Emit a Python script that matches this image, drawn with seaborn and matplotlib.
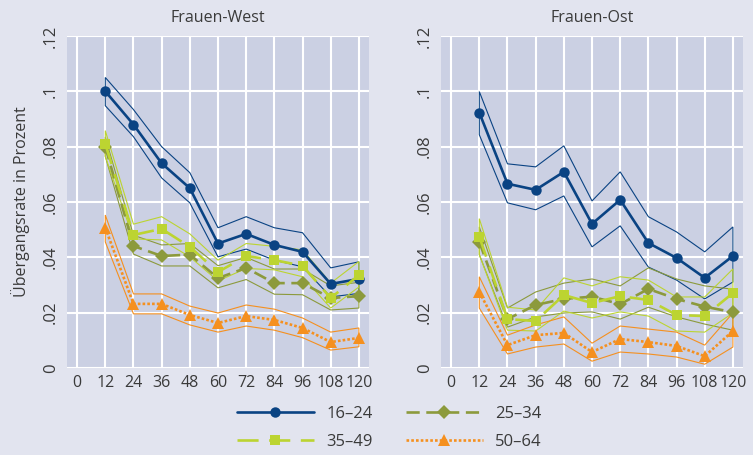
import numpy as np
import pandas as pd
import seaborn as sns
import matplotlib.pyplot as plt

# Data ----------------------------------------------------------------------------------------------
months = [12, 24, 36, 48, 60, 72, 84, 96, 108, 120]
groups = ['16–24', '25–34', '35–49', '50–64']

# Frauen-West: estimate, upper bound, lower bound
west_16_24 = [.100, .088, .074, .065, .045, .0485, .0445, .042, .0304, .0322]
west_16_24_hi = [.105, .0934, .080, .0706, .0507, .0547, .0507, .0489, .0362, .0384]
west_16_24_lo = [.0948, .0836, .0687, .0597, .0402, .043, .039, .0366, .0257, .027]

west_25_34 = [.080, .0441, .0405, .041, .0325, .0362, .0307, .0307, .0253, .026]
west_25_34_hi = [.0835, .048, .0445, .045, .037, .040, .0358, .0358, .0297, .031]
west_25_34_lo = [.0765, .0412, .0369, .0369, .029, .032, .0267, .0265, .021, .0217]

west_35_49 = [.081, .0481, .0503, .0438, .0347, .0405, .039, .037, .0253, .0336]
west_35_49_hi = [.0858, .052, .0547, .0485, .039, .045, .044, .0427, .0307, .0385]
west_35_49_lo = [.0765, .0467, .0463, .0402, .0315, .036, .0355, .033, .0217, .0293]

west_50_64 = [.0507, .0232, .0232, .0192, .0163, .0188, .0174, .0145, .0094, .0109]
west_50_64_hi = [.0553, .0268, .0268, .0224, .0199, .0228, .0213, .0181, .013, .0145]
west_50_64_lo = [.0456, .0196, .0196, .0156, .013, .0152, .0137, .011, .0065, .0077]

# Frauen-Ost
ost_16_24 = [.0923, .0666, .0644, .0709, .0521, .0608, .0452, .0398, .0326, .0405]
ost_16_24_hi = [.0999, .0738, .0727, .0803, .0604, .0709, .0547, .0492, .042, .051]
ost_16_24_lo = [.0843, .0597, .0572, .0622, .0438, .0514, .0365, .0318, .025, .0311]

ost_25_34 = [.0456, .0177, .0228, .025, .0258, .0231, .0286, .025, .0222, .0202]
ost_25_34_hi = [.051, .0217, .0275, .0307, .0322, .0297, .0362, .0322, .0297, .0285]
ost_25_34_lo = [.041, .0148, .0185, .0199, .0203, .0177, .022, .0185, .0159, .0137]

ost_35_49 = [.0475, .0177, .017, .0264, .0235, .026, .0246, .0192, .0188, .0271]
ost_35_49_hi = [.054, .022, .021, .0326, .0297, .033, .0318, .0257, .0257, .0358]
ost_35_49_lo = [.041, .0137, .0134, .0206, .0181, .0203, .0188, .0134, .013, .0199]

ost_50_64 = [.0275, .0083, .0119, .0127, .0058, .0105, .0094, .008, .0043, .0134]
ost_50_64_hi = [.033, .0119, .0156, .0185, .009, .0152, .0141, .013, .0083, .0199]
ost_50_64_lo = [.0217, .0051, .0076, .0087, .0025, .0058, .0051, .004, .0014, .0076]

x_ticks = [0, 12, 24, 36, 48, 60, 72, 84, 96, 108, 120]
y_ticks = [0, .02, .04, .06, .08, .10, .12]
y_tick_labels = ['0', '.02', '.04', '.06', '.08', '.1', '.12']

# Styling ------------------------------------------------------------------------------------------
colors = {'16–24': '#0a4383', '25–34': '#8c9a3c', '35–49': '#bcd431', '50–64': '#f5901f'}
markers = {'16–24': 'o', '25–34': 'D', '35–49': 's', '50–64': '^'}
msizes = {'16–24': 7.5, '25–34': 7.5, '35–49': 7.5, '50–64': 8.5}
dashes = {'16–24': '', '25–34': (5, 2.5), '35–49': (8, 4), '50–64': (1, 0.8)}

panels = {
    'Frauen-West': {
        '16–24': (west_16_24, west_16_24_hi, west_16_24_lo),
        '25–34': (west_25_34, west_25_34_hi, west_25_34_lo),
        '35–49': (west_35_49, west_35_49_hi, west_35_49_lo),
        '50–64': (west_50_64, west_50_64_hi, west_50_64_lo),
    },
    'Frauen-Ost': {
        '16–24': (ost_16_24, ost_16_24_hi, ost_16_24_lo),
        '25–34': (ost_25_34, ost_25_34_hi, ost_25_34_lo),
        '35–49': (ost_35_49, ost_35_49_hi, ost_35_49_lo),
        '50–64': (ost_50_64, ost_50_64_hi, ost_50_64_lo),
    },
}

sns.set_theme(style='darkgrid', rc={'figure.facecolor': '#e2e4ef', 'axes.facecolor': '#cbd0e3',
                                    'grid.color': 'white', 'grid.linewidth': 1.5})
plt.rcParams['font.family'] = ['Open Sans', 'DejaVu Sans']
text_col = '#3a3a3a'

fig = plt.figure(figsize=(7.53, 4.55), dpi=100)
ax_west = fig.add_axes([0.089, 0.191, 0.401, 0.730])
ax_ost = fig.add_axes([0.5857, 0.191, 0.401, 0.730])

handles = {}
for ax, (title, series) in zip([ax_west, ax_ost], panels.items()):
    # confidence bands drawn as thin closed outlines
    for grp in groups:
        est, hi, lo = series[grp]
        ax.fill(months + months[::-1], hi + lo[::-1], fill=False, edgecolor=colors[grp], linewidth=0.8)
    for grp in groups:
        est, hi, lo = series[grp]
        df = pd.DataFrame({'month': months, 'rate': est})
        sns.lineplot(data=df, x='month', y='rate', ax=ax, color=colors[grp], linewidth=1.9,
                     marker=markers[grp], markersize=msizes[grp], markeredgewidth=0,
                     dashes=False, legend=False)
        line = ax.lines[-1]
        if dashes[grp]:
            line.set_dashes(dashes[grp])
        line.set_label(grp)
        handles[grp] = line

    ax.set_xlim(-4.3, 124.3)
    ax.set_ylim(0, 0.12)
    ax.set_xticks(x_ticks)
    ax.set_yticks(y_ticks)
    ax.set_yticklabels(y_tick_labels, rotation=90, va='center')
    ax.tick_params(axis='both', length=0, labelcolor=text_col)
    ax.tick_params(axis='y', labelsize=12, pad=6)
    ax.tick_params(axis='x', labelsize=11.5, pad=5)
    ax.set_xlabel('')
    ax.set_ylabel('')
    ax.set_title(title, fontsize=11.5, color=text_col, pad=10)
    for s in ax.spines.values():
        s.set_visible(False)

ax_west.set_ylabel('Übergangsrate in Prozent', fontsize=11.5, color=text_col, labelpad=9)

order = ['16–24', '35–49', '25–34', '50–64']
fig.legend([handles[g] for g in order], order, ncol=2, loc='center',
           bbox_to_anchor=(0.517, 0.060), frameon=False, fontsize=12, handlelength=4.6,
           handletextpad=0.75, columnspacing=2.0, labelspacing=0.7, labelcolor=text_col)

fig.savefig('out.png', dpi=100)
